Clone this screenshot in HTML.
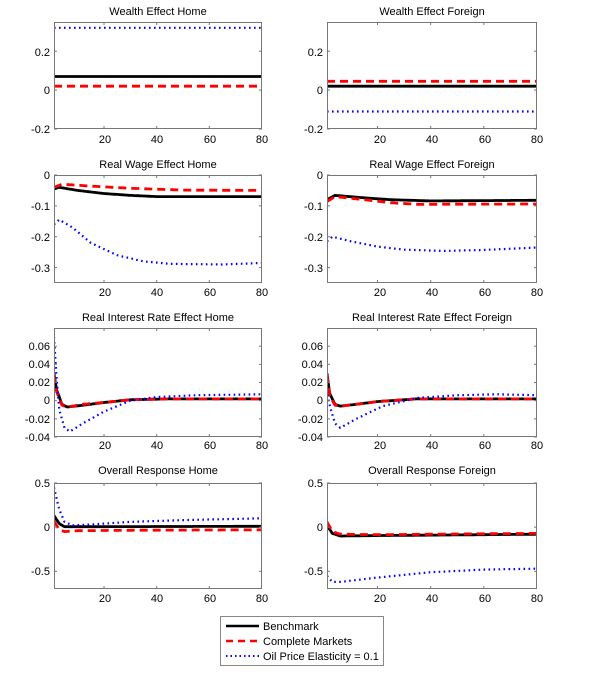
<!DOCTYPE html>
<html><head><meta charset="utf-8"><style>
body{margin:0;background:#fff;}
svg{display:block;font-family:"Liberation Sans",Arial,sans-serif;}
text{font-size:11px;fill:#000;}
.t{font-size:11px;}
</style></head><body>
<svg id="s" width="600" height="683" viewBox="0 0 600 683" xmlns="http://www.w3.org/2000/svg">
<rect width="600" height="683" fill="#fff"/>
<g id="g"></g>
<!-- titles -->
<text x="158" y="15" text-anchor="middle">Wealth Effect Home</text>
<text x="432" y="15" text-anchor="middle">Wealth Effect Foreign</text>
<text x="158" y="168" text-anchor="middle">Real Wage Effect Home</text>
<text x="432" y="168" text-anchor="middle">Real Wage Effect Foreign</text>
<text x="158" y="321" text-anchor="middle">Real Interest Rate Effect Home</text>
<text x="432" y="321" text-anchor="middle">Real Interest Rate Effect Foreign</text>
<text x="158" y="474" text-anchor="middle">Overall Response Home</text>
<text x="432" y="474" text-anchor="middle">Overall Response Foreign</text>
<!-- y tick labels left -->
<g text-anchor="end" font-size="11">
<text x="50" y="56">0.2</text><text x="50" y="94">0</text><text x="50" y="133">-0.2</text>
<text x="50" y="179">0</text><text x="50" y="210">-0.1</text><text x="50" y="241">-0.2</text><text x="50" y="272">-0.3</text>
<text x="50" y="350">0.06</text><text x="50" y="368">0.04</text><text x="50" y="386">0.02</text><text x="50" y="404">0</text><text x="50" y="423">-0.02</text><text x="50" y="441">-0.04</text>
<text x="50" y="487">0.5</text><text x="50" y="531">0</text><text x="50" y="575">-0.5</text>
<text x="323" y="56">0.2</text><text x="323" y="94">0</text><text x="323" y="133">-0.2</text>
<text x="323" y="179">0</text><text x="323" y="210">-0.1</text><text x="323" y="241">-0.2</text><text x="323" y="272">-0.3</text>
<text x="323" y="350">0.06</text><text x="323" y="368">0.04</text><text x="323" y="386">0.02</text><text x="323" y="404">0</text><text x="323" y="423">-0.02</text><text x="323" y="441">-0.04</text>
<text x="323" y="487">0.5</text><text x="323" y="531">0</text><text x="323" y="575">-0.5</text>
</g>
<g text-anchor="middle">
<text x="105" y="143">20</text><text x="157" y="143">40</text><text x="210" y="143">60</text><text x="262" y="143">80</text>
<text x="105" y="296">20</text><text x="157" y="296">40</text><text x="210" y="296">60</text><text x="262" y="296">80</text>
<text x="105" y="449">20</text><text x="157" y="449">40</text><text x="210" y="449">60</text><text x="262" y="449">80</text>
<text x="105" y="602">20</text><text x="157" y="602">40</text><text x="210" y="602">60</text><text x="262" y="602">80</text>
<text x="380" y="143">20</text><text x="432" y="143">40</text><text x="485" y="143">60</text><text x="537" y="143">80</text>
<text x="380" y="296">20</text><text x="432" y="296">40</text><text x="485" y="296">60</text><text x="537" y="296">80</text>
<text x="380" y="449">20</text><text x="432" y="449">40</text><text x="485" y="449">60</text><text x="537" y="449">80</text>
<text x="380" y="602">20</text><text x="432" y="602">40</text><text x="485" y="602">60</text><text x="537" y="602">80</text>
</g>
<!-- legend -->
<rect x="220.5" y="616.5" width="163" height="49" fill="#fff" stroke="#888" stroke-width="1"/>
<line x1="226" y1="626" x2="259" y2="626" stroke="#000" stroke-width="2.5"/>
<line x1="226" y1="641" x2="259" y2="641" stroke="#f00" stroke-width="2.5" stroke-dasharray="7,5"/>
<line x1="226" y1="656" x2="259" y2="656" stroke="#00f" stroke-width="2" stroke-dasharray="1.5,3"/>
<text x="263" y="630">Benchmark</text>
<text x="263" y="645">Complete Markets</text>
<text x="263" y="660">Oil Price Elasticity = 0.1</text>
</svg>
<script>
var g=document.getElementById('g');var NS='http://www.w3.org/2000/svg';
function el(n,a){var e=document.createElementNS(NS,n);for(var k in a)e.setAttribute(k,a[k]);g.appendChild(e);return e;}
var cols=[[54,262],[327,537]];
var rows=[[22,129,-0.2,0.35,[0.2,0,-0.2]],[175,283,-0.35,0,[0,-0.1,-0.2,-0.3]],[328,437,-0.04,0.08,[0.06,0.04,0.02,0,-0.02,-0.04]],[483,589,-0.7,0.5,[0.5,0,-0.5]]];
function interp(kp,t){for(var i=0;i<kp.length-1;i++){if(t<=kp[i+1][0]){var a=kp[i],b=kp[i+1];return a[1]+(b[1]-a[1])*(t-a[0])/(b[0]-a[0]);}}return kp[kp.length-1][1];}
var D=[
[ [[[1,0.07],[80,0.07]],[[1,0.02],[80,0.02]],[[1,0.32],[80,0.32]]],
  [[[1,0.02],[80,0.02]],[[1,0.045],[80,0.045]],[[1,-0.11],[80,-0.11]]] ],
[ [[[1,-0.045],[3,-0.04],[10,-0.05],[20,-0.06],[30,-0.066],[40,-0.07],[80,-0.07]],
   [[1,-0.04],[4,-0.03],[15,-0.036],[30,-0.043],[50,-0.049],[80,-0.05]],
   [[1,-0.16],[3,-0.145],[8,-0.17],[15,-0.22],[25,-0.26],[35,-0.28],[45,-0.288],[65,-0.29],[80,-0.285]]],
  [[[1,-0.08],[4,-0.066],[15,-0.074],[25,-0.08],[40,-0.084],[80,-0.082]],
   [[1,-0.086],[4,-0.07],[15,-0.08],[25,-0.09],[35,-0.095],[80,-0.094]],
   [[1,-0.215],[3,-0.2],[10,-0.215],[20,-0.232],[30,-0.242],[45,-0.246],[60,-0.243],[80,-0.235]]] ],
[ [[[1,0.03],[2,0.012],[4,-0.004],[6,-0.007],[12,-0.005],[20,-0.002],[30,0.001],[45,0.002],[80,0.002]],
   [[1,0.028],[2,0.01],[4,-0.005],[6,-0.007],[12,-0.004],[20,-0.002],[30,0.001],[45,0.002],[80,0.002]],
   [[1,0.07],[2,0.025],[3,-0.01],[5,-0.03],[7,-0.034],[12,-0.025],[20,-0.012],[30,0],[40,0.004],[55,0.006],[80,0.007]]],
  [[[1,0.03],[2,0.008],[4,-0.004],[6,-0.006],[12,-0.004],[20,-0.001],[35,0.002],[80,0.002]],
   [[1,0.028],[2,0.006],[4,-0.005],[6,-0.006],[12,-0.004],[20,-0.001],[35,0.002],[80,0.002]],
   [[1,0.012],[2,-0.005],[4,-0.025],[6,-0.03],[12,-0.02],[22,-0.006],[35,0.003],[50,0.006],[65,0.007],[80,0.006]]] ],
[ [[[1,0.13],[3,0.04],[5,0.005],[10,0.005],[80,0.01]],
   [[1,0.07],[3,-0.03],[5,-0.05],[10,-0.04],[30,-0.035],[80,-0.03]],
   [[1,0.45],[3,0.2],[5,0.06],[8,0.02],[15,0.03],[30,0.06],[50,0.08],[80,0.1]]],
  [[[1,0.02],[3,-0.07],[6,-0.1],[20,-0.095],[80,-0.08]],
   [[1,0.06],[3,-0.05],[6,-0.08],[20,-0.085],[80,-0.07]],
   [[1,-0.55],[3,-0.62],[6,-0.62],[20,-0.57],[40,-0.51],[60,-0.48],[80,-0.47]]] ]
];
var sty=[{stroke:'#000','stroke-width':2.8},{stroke:'#f00','stroke-width':2.8,'stroke-dasharray':'8,5'},{stroke:'#00f','stroke-width':2.2,'stroke-dasharray':'1.6,3.4'}];
for(var r=0;r<4;r++)for(var c=0;c<2;c++){
 var R=rows[r],C=cols[c];var x0=C[0],x1=C[1],y0=R[0],y1=R[1],lo=R[2],hi=R[3];
 var X=function(t){return x0+(t-1)*(x1-x0)/79;};var Y=function(v){return y1-(v-lo)*(y1-y0)/(hi-lo);};
 var cp='c'+r+c;var cl=el('clipPath',{id:cp});var cr=document.createElementNS(NS,'rect');cr.setAttribute('x',x0);cr.setAttribute('y',y0);cr.setAttribute('width',x1-x0);cr.setAttribute('height',y1-y0);cl.appendChild(cr);
 for(var s=0;s<3;s++){var kp=D[r][c][s];var pts=[];for(var t=1;t<=80;t+=0.5)pts.push(X(t).toFixed(1)+','+Y(interp(kp,t)).toFixed(1));
  var a={points:pts.join(' '),fill:'none','clip-path':'url(#'+cp+')','stroke-linejoin':'round'};for(var k in sty[s])a[k]=sty[s][k];el('polyline',a);}
 el('rect',{x:x0+0.5,y:y0+0.5,width:x1-x0-1,height:y1-y0-1,fill:'none',stroke:'#777','stroke-width':1});
 [20,40,60].forEach(function(t){var x=X(t);el('line',{x1:x,y1:y1,x2:x,y2:y1-3,stroke:'#777'});el('line',{x1:x,y1:y0,x2:x,y2:y0+3,stroke:'#777'});});
 R[4].forEach(function(v){var y=Y(v);el('line',{x1:x0,y1:y,x2:x0+3,y2:y,stroke:'#777'});el('line',{x1:x1,y1:y,x2:x1-3,y2:y,stroke:'#777'});});
}
</script>
</body></html>
